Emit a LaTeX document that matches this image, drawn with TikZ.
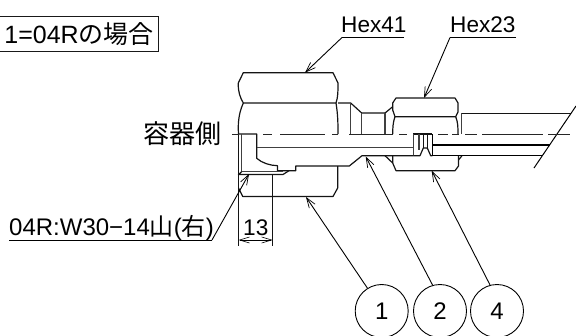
\documentclass[tikz,border=0pt]{standalone}
\usepackage{fontspec}
\setmainfont{Liberation Sans}
\newfontfamily\jpf{Noto Sans CJK JP}
\usetikzlibrary{arrows.meta}
\newcommand{\jp}[1]{{\jpf #1}}
\tikzset{
  contour/.style={line width=1.2pt,draw=black!92,line join=round},
  secline/.style={line width=1.5pt,draw=black!75},
  heavy/.style={line width=1.4pt,draw=black},
  thinline/.style={line width=0.9pt,draw=black},
  opentip/.style={-{Straight Barb[length=10pt,width=7pt,line width=0.7pt]}},
  twotip/.style={{Straight Barb[length=10pt,width=6pt,line width=0.6pt]}-{Straight Barb[length=10pt,width=6pt,line width=0.6pt]}},
  centre/.style={line width=1.1pt,draw=black!85},
  lab/.style={anchor=base west,inner sep=0pt,font=\fontsize{22.6}{25}\selectfont},
  ball/.style={circle,draw=black,line width=0.9pt,minimum size=53pt,inner sep=0pt,font=\fontsize{24}{26}\selectfont}
}
\begin{document}
\begin{tikzpicture}[x=1pt,y=-1pt]
\useasboundingbox (0,0) rectangle (576,335);
% labels
\node[draw=black!90,line width=1.1pt,rectangle,anchor=north west,minimum width=159pt,minimum height=35pt,inner sep=0pt,font=\fontsize{25}{27}\selectfont] (box) at (-1,16) {1=04R\jp{の場合}\hspace{14pt}};
\node[lab,font=\fontsize{26}{28}\selectfont] (side) at (143,143) {\jp{容器側}};
\node[lab] (h41) at (341,32) {Hex41};
\node[lab] (h23) at (450,32) {Hex23};
\node[lab,font=\fontsize{24}{26}\selectfont] (thr) at (9,235.5) {04R:W30−14\jp{山}(\jp{右})};
\node[lab] (thirteen) at (243,235) {13};
\node[ball] (c1) at (381.7,311) {1};
\node[ball] (c2) at (440,311) {2};
\node[ball] (c4) at (497,311) {4};
% first nut
\draw[contour] (243.3,103) .. controls (238,115) and (238,125) .. (238.5,134);
\draw[contour] (336,103) .. controls (338,115) and (338,125) .. (338,134);
\draw[contour] (243.3,103) .. controls (240,97) and (238,92) .. (238.3,83) -- (243.3,72.7) -- (333,72.7) -- (338,83) .. controls (338,92) and (338,97) .. (336,103) -- cycle;
\draw[contour] (338,103) -- (350.7,103) -- (361.7,113) -- (385,113);
\draw[secline] (350.7,103) -- (350.7,134);
\draw[secline] (361.7,113) -- (361.7,134);
% lower half of first nut
\draw[contour] (337.7,166) -- (337.7,188) -- (333,196.5) -- (242.7,196.5) -- (238.5,188);
% section interior
\draw[contour] (238.5,134) -- (256.7,134) -- (256.7,158.3) .. controls (262,163) and (270,165.5) .. (277.5,165.7) -- (277.5,170.7) -- (295.7,170.7) -- (295.7,166) -- (349.3,166) -- (362,155.7) -- (413.3,155.7);
\draw[secline] (241.7,134) -- (241.7,171.7);
\draw[secline] (256.7,147.6) -- (413.3,147.6);
\draw[secline] (241.7,171.7) -- (283,171.7);
\draw[contour] (241.7,171.7) -- (238.5,174.5) -- (283,174.5) -- (289,170.7);
% dimension / edge lines
\node[inner sep=0pt,minimum size=0pt] (edgeT) at (238.5,134) {};
\coordinate (edgeB) at (238.5,246);
\coordinate (dimR) at (272.7,246);
\coordinate (dimRt) at (272.7,174.5);
\draw[contour] (edgeT) -- (edgeB);
\draw[contour] (dimRt) -- (dimR);
\coordinate (dL) at (238.5,240);
\coordinate (dR) at (272.7,240);
\draw[thinline,twotip] (dL) -- (dR);
% second nut
\draw[contour] (395,116.7) -- (392.7,110) -- (392.7,103) -- (396,98) -- (455,98) -- (458,103) -- (458,112) -- (455.7,116.7) -- cycle;
\draw[contour] (395,116.7) .. controls (393,122) and (392.7,128) .. (392.7,134);
\draw[contour] (455.7,116.7) .. controls (458,122) and (458,128) .. (458,134);
\draw[contour] (385,113) -- (392.7,106.7);
\draw[secline] (385,113) -- (385,134);
\draw[secline] (461.5,113) -- (461.5,134);
\draw[contour] (385,155.7) -- (392.7,163);
\draw[contour] (392.7,155.7) -- (392.7,163) -- (396,170.7) -- (455,170.7) -- (458.5,166) -- (458.5,155.7);
\draw[contour] (458.5,160) -- (462,155.7);
% centre section
\draw[contour] (413.3,134) -- (432.3,134);
\draw[secline] (413.3,134) -- (413.3,155.7);
\draw[secline] (419,134) -- (419,150);
\draw[contour] (423.3,134) -- (423.3,148);
\draw[contour] (427.3,134) -- (427.3,148);
\draw[contour] (413.3,155.7) -- (420,155.7) -- (423.3,148) -- (427.3,148) -- (430.7,155.7) -- (432.3,155.7);
\draw[heavy] (432.3,134) -- (432.3,155.7);
% tube
\draw[contour,line width=1.3pt] (461.5,113.3) -- (571,113.3);
\draw[heavy] (432.3,145) -- (550,145);
\draw[heavy] (432.3,155.7) -- (541.7,155.7);
\coordinate (brA) at (534,168);
\coordinate (brB) at (576,106);
\draw[thinline,line width=1pt] (brA) -- (brB);
% centre line
\foreach \a/\b in {232/238.5,263/272,280/325,332/338,349/392.7,399/407,438/448,452/459,465/477,482/543,548/570}
  \draw[centre] (\a,134.3) -- (\b,134.3);
% leaders
\coordinate (t41) at (305,72.7);
\coordinate (s41a) at (342,37.5);
\coordinate (s41b) at (404,37.5);
\coordinate (t23) at (424,98);
\coordinate (s23a) at (450,37.5);
\coordinate (s23b) at (516,37.5);
\coordinate (tthr) at (249,174);
\coordinate (sthrA) at (212,240);
\coordinate (sthrB) at (9,240);
\coordinate (t1) at (306,197);
\coordinate (t2) at (365.7,156.5);
\coordinate (t4) at (431.7,170.7);
\draw[thinline] (s41b) -- (s41a);
\draw[thinline,opentip] (s41a) -- (t41);
\draw[thinline] (s23b) -- (s23a);
\draw[thinline,opentip] (s23a) -- (t23);
\draw[thinline] (sthrB) -- (sthrA);
\draw[thinline,opentip] (sthrA) -- (tthr);
\draw[thinline,opentip] (c1.122) -- (t1);
\draw[thinline,opentip] (c2.106) -- (t2);
\draw[thinline,opentip] (c4.105) -- (t4);
\end{tikzpicture}
\end{document}
